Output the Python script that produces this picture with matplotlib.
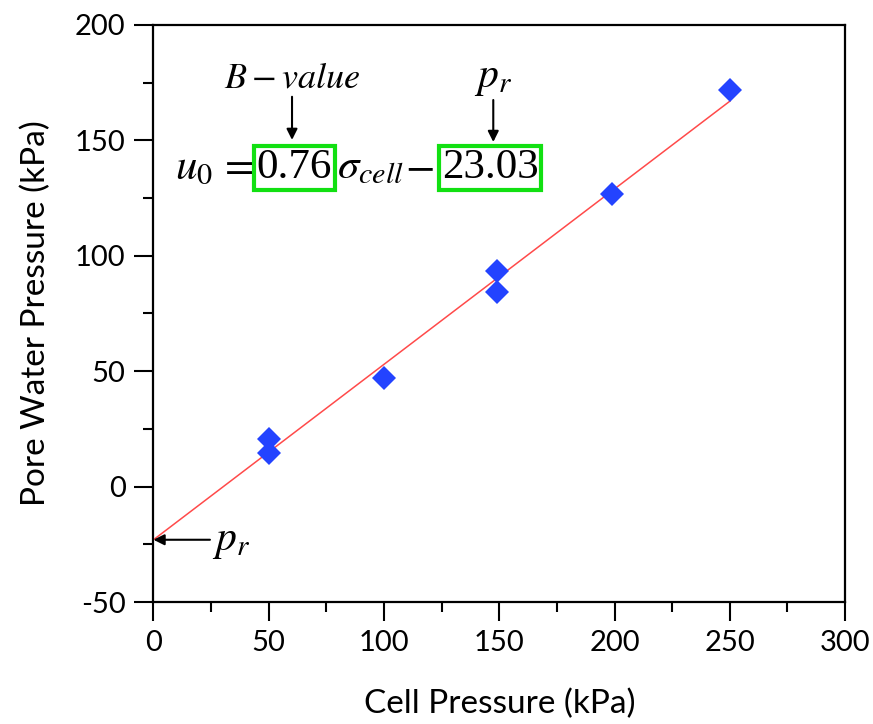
import matplotlib
matplotlib.use("Agg")
import matplotlib.pyplot as plt
from matplotlib.ticker import MultipleLocator

# Measured data: cell pressure vs. pore water pressure
cell_pressure = [50, 50, 100, 149, 149, 199, 250]
pore_pressure = [20.5, 14.5, 47.0, 93.5, 84.5, 126.8, 172.0]

# Linear fit u0 = B * sigma_cell - p_r
b_value = 0.76
p_r = 23.03
fit_x = [0, 250]
fit_y = [b_value * x - p_r for x in fit_x]

x_ticks = [0, 50, 100, 150, 200, 250, 300]
y_ticks = [-50, 0, 50, 100, 150, 200]

plt.rcParams["mathtext.fontset"] = "stix"
plt.rcParams["axes.unicode_minus"] = False
sans = "Lato"

fig = plt.figure(figsize=(8.73, 7.24), dpi=100)
ax = fig.add_axes([0.1758, 0.1685, 0.7922, 0.797])

ax.plot(fit_x, fit_y, color="#ff4a4a", lw=1.1, zorder=2)
ax.plot(cell_pressure, pore_pressure, linestyle="none", marker="D",
        markersize=12.5, color="#2343ff", markeredgewidth=0, zorder=3)

ax.set_xlim(0, 300)
ax.set_ylim(-50, 200)
ax.set_xticks(x_ticks)
ax.set_yticks(y_ticks)
ax.xaxis.set_minor_locator(MultipleLocator(25))
ax.yaxis.set_minor_locator(MultipleLocator(25))
ax.tick_params(which="major", direction="out", length=14, width=1.5,
               labelsize=21, pad=6)
ax.tick_params(which="minor", direction="out", length=7, width=1.5)
for lab in ax.get_xticklabels() + ax.get_yticklabels():
    lab.set_fontfamily(sans)
for sp in ax.spines.values():
    sp.set_linewidth(1.6)

ax.set_xlabel("Cell Pressure (kPa)", fontsize=24, family=sans, labelpad=24)
ax.set_ylabel("Pore Water Pressure (kPa)", fontsize=24, family=sans, labelpad=17)

# Fitted equation with highlighted coefficients
green = "#12e012"
base = 133.7
ax.text(9.3, base, r"$u_0\,=$", fontsize=31, ha="left", va="baseline")
ax.text(61.2, base, "0.76", fontsize=31, family="Liberation Serif",
        ha="center", va="baseline",
        bbox=dict(boxstyle="square,pad=0.06", fc="white", ec=green, lw=3))
ax.text(79.7, base, r"$\sigma_{cell}$", fontsize=31, ha="left", va="baseline")
ax.text(115.5, base, r"$-$", fontsize=31, ha="center", va="baseline")
ax.text(146.1, base, "23.03", fontsize=31, family="Liberation Serif",
        ha="center", va="baseline",
        bbox=dict(boxstyle="square,pad=0.06", fc="white", ec=green, lw=3))

arrow = dict(arrowstyle="-|>", color="black", lw=1.5, mutation_scale=16,
             shrinkA=0, shrinkB=0)
ax.annotate("", xy=(60.1, 150.2), xytext=(60.1, 168.9), arrowprops=arrow)
ax.annotate("", xy=(147.4, 149.3), xytext=(147.4, 167.5), arrowprops=arrow)
ax.text(60.1, 173.1, r"$B-value$", fontsize=26, ha="center", va="baseline")
ax.text(147.4, 173.1, r"$p_r$", fontsize=30, ha="center", va="baseline")

# Intercept marker on the y-axis
ax.annotate("", xy=(0, -p_r), xytext=(24.5, -p_r), arrowprops=arrow,
            annotation_clip=False)
ax.text(25.4, -27.4, r"$p_r$", fontsize=30, ha="left", va="baseline")

fig.savefig("out.png", dpi=100)
